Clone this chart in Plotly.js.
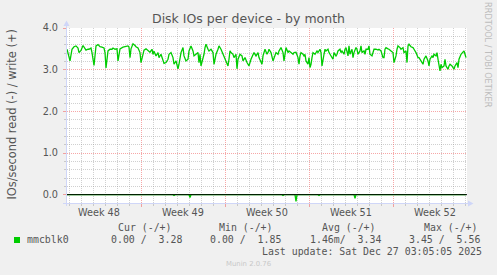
<!DOCTYPE html>
<html><head><meta charset="utf-8">
<script src="https://cdn.plot.ly/plotly-3.0.1.min.js"></script>
<style>html,body{margin:0;padding:0;background:#f0f0f0;}#chart{width:497px;height:275px;}</style>
</head><body><div id="chart"></div>
<script>
// ---- data (2-hour samples, index = sample number from the graph start) ----
const startTime = '2025-11-23T19:05:00Z';
const endTime = '2025-12-27T03:05:00Z';
const stepHours = 2;

const writeIdx = [0,1,3,5,7,9,11,12,14,16,17,19,21,22,24,25,27,28,29,31,33,35,37,38,39,41,43,45,46,48,50,51,52,53,56,58,61,62,63,64,66,68,69,71,73,74,76,77,79,81,83,85,86,87,89,91,92,94,96,97,99,101,
102,104,106,107,109,111,112,114,116,117,119,121,122,124,126,127,129,131,132,133,134,136,137,138,139,141,142,144,146,147,149,151,152,154,156,157,159,161,162,163,164,166,167,169,170,171,173,175,176,178,180,181,182,184,186,187,189,191,192,194,195,196,198,200,
201,202,204,206,207,209,211,212,214,216,217,218,219,221,222,224,226,227,229,231,232,233,234,236,237,238,239,241,242,243,244,245,246,248,250,251,253,254,255,257,258,259,261,262,263,265,266,267,269,270,271,273,274,275,277,278,279,281,282,283,285,286,287,289,290,291,293,294,295,297,298,299,
301,302,303,305,306,307,309,311,312,314,316,317,318,319,321,322,324,326,327,329,330,331,333,334,336,337,339,340,341,342,344,346,347,349,351,352,354,356,357,359,361,362,363,365,366,367,369,370,371,373,374,375,377,378,379,381,382,383,385,386,387,388,390,391,392,394,396,397,398,399];
const writeVals = [3.49,3.37,3.21,3.49,3.55,3.57,3.52,3.41,3.46,3.58,3.54,3.47,3.49,3.49,3.52,3.41,3.10,3.41,3.57,3.60,3.55,3.54,3.52,3.41,3.04,3.45,3.49,3.49,3.52,3.49,3.50,3.21,3.37,3.50,3.54,3.55,3.57,3.54,3.29,3.50,3.62,3.58,3.55,3.52,3.41,3.17,3.37,3.47,3.50,3.47,3.42,3.49,3.37,3.44,3.33,3.41,3.29,3.37,3.25,3.15,3.17,3.25,
3.37,3.41,3.29,3.13,3.21,3.02,3.13,3.41,3.53,3.33,3.21,3.25,3.45,3.57,3.45,3.33,3.37,3.41,3.17,3.37,3.09,3.25,3.37,3.53,3.61,3.49,3.45,3.49,3.41,3.13,3.37,3.49,3.57,3.49,3.37,3.29,3.17,3.09,3.25,3.45,3.41,3.37,3.29,3.37,3.02,3.25,3.37,3.33,3.21,3.29,3.17,3.13,3.09,3.25,3.37,3.41,3.33,3.41,3.29,3.17,3.13,3.33,3.49,3.37,
3.41,3.49,3.41,3.21,3.29,3.41,3.37,3.45,3.53,3.41,3.21,3.45,3.53,3.41,3.45,3.41,3.37,3.41,3.42,3.29,3.13,3.33,3.41,3.37,3.33,3.37,3.21,3.13,3.29,3.05,3.13,3.29,3.41,3.37,3.45,3.41,3.49,3.41,3.09,3.37,3.49,3.45,3.49,3.41,3.37,3.29,3.25,3.41,3.33,3.37,3.45,3.49,3.41,3.45,3.37,3.49,3.53,3.33,3.57,3.37,3.49,3.29,3.41,3.53,3.49,3.37,3.45,3.57,3.41,3.45,3.37,3.49,
3.49,3.57,3.37,3.33,3.45,3.49,3.49,3.47,3.49,3.45,3.29,3.29,3.49,3.53,3.50,3.49,3.45,3.41,3.17,3.33,3.49,3.57,3.53,3.49,3.53,3.41,3.45,3.17,3.57,3.61,3.55,3.53,3.49,3.41,3.29,3.29,3.21,3.13,3.25,3.33,3.21,3.09,3.25,3.33,3.29,3.37,3.33,3.41,3.25,2.97,3.13,3.05,3.09,3.25,3.09,3.01,3.09,3.13,3.09,3.05,3.01,3.09,3.17,3.05,3.25,3.37,3.41,3.45,3.37,3.29];

// read is drawn negative (munin -/+ convention)
const readIdx = [0,106,107,108,122,123,124,215,216,217,228,229,230,251,252,253,287,288,289,399];
const readVals = [0,0,-0.02,0,0,-0.07,0,0,-0.02,0,0,-0.16,0,0,-0.02,0,0,-0.09,0,0];

const weekLabels = ['Week 48','Week 49','Week 50','Week 51','Week 52'];
const weekCenters = ['2025-11-26 12:00','2025-12-03 12:00','2025-12-10 12:00','2025-12-17 12:00','2025-12-24 12:00'];
const seriesName = 'mmcblk0';
const legendHeader = ['Cur (-/+)','Min (-/+)','Avg (-/+)','Max (-/+)'];
const legendValues = ['0.00 /  3.28','0.00 /  1.85','1.46m/  3.34','3.45 /  5.56'];
const lastUpdate = 'Last update: Sat Dec 27 03:05:05 2025';
const titleText = 'Disk IOs per device - by month';
const yTitle = 'IOs/second read (-) / write (+)';
const watermark = 'RRDTOOL / TOBI OETIKER';
const footer = 'Munin 2.0.76';

// ---- helpers ----
const t0 = Date.parse(startTime);
const fmt = ms => new Date(ms).toISOString().slice(0,16).replace('T',' ');
const toTime = i => fmt(t0 + i*stepHours*3600000);

const L=67, T=28, W=400, H=175;
const X = p => (p-L)/W, Y = p => (T+H-p)/H;

const GREEN='#00cc00', AXIS='#cfd6f8', FONT='#555555';
const MGRID='rgba(240,80,80,0.5)', GRID='rgba(150,150,150,0.45)';

const traces = [
  {x: writeIdx.map(toTime), y: writeVals, type:'scatter', mode:'lines',
   line:{color:GREEN, width:1.3}, hoverinfo:'skip', showlegend:false},
  {x: readIdx.map(toTime), y: readVals, type:'scatter', mode:'lines',
   line:{color:GREEN, width:1.3}, hoverinfo:'skip', showlegend:false}
];

const ann = [];
ann.push({text:titleText, xref:'paper', yref:'paper', x:X(248.5), y:Y(18.5), xanchor:'center', yanchor:'middle',
  showarrow:false, font:{family:'DejaVu Sans', size:12.5, color:FONT}, borderpad:0});
ann.push({text:yTitle, xref:'paper', yref:'paper', x:X(11.5), y:Y(115), xanchor:'center', yanchor:'middle',
  textangle:-90, showarrow:false, font:{family:'DejaVu Sans', size:11.4, color:FONT}, borderpad:0});
ann.push({text:watermark, xref:'paper', yref:'paper', x:X(488), y:Y(55), xanchor:'center', yanchor:'middle',
  textangle:90, showarrow:false, font:{family:'DejaVu Sans', size:8.2, color:'#bdbdbd'}, borderpad:0});
weekLabels.forEach((w,i)=>ann.push({text:w, xref:'x', yref:'paper', x:weekCenters[i], y:Y(212.3),
  xanchor:'center', yanchor:'middle', showarrow:false, font:{family:'DejaVu Sans', size:9.7, color:FONT}, borderpad:0}));
const headerX=[116.5,218,320.5,422.5], valueX=[109.5,208.5,308.5,407.5];
const mono = {family:'DejaVu Sans Mono', size:9.9, color:FONT};
legendHeader.forEach((h,i)=>ann.push({text:h, xref:'paper', yref:'paper', x:X(headerX[i]), y:Y(227.7),
  xanchor:'left', yanchor:'middle', showarrow:false, font:mono, borderpad:0}));
legendValues.forEach((v,i)=>ann.push({text:v.replace(/ /g,'\u00a0'), xref:'paper', yref:'paper', x:X(valueX[i]), y:Y(239.3),
  xanchor:'left', yanchor:'middle', showarrow:false, font:mono, borderpad:0}));
ann.push({text:seriesName, xref:'paper', yref:'paper', x:X(25.5), y:Y(239.3), xanchor:'left', yanchor:'middle',
  showarrow:false, font:mono, borderpad:0});
ann.push({text:lastUpdate.replace(/ /g,'\u00a0'), xref:'paper', yref:'paper', x:X(482.8), y:Y(251), xanchor:'right', yanchor:'middle',
  showarrow:false, font:mono, borderpad:0});
ann.push({text:footer, xref:'paper', yref:'paper', x:X(248), y:Y(264), xanchor:'center', yanchor:'middle',
  showarrow:false, font:{family:'DejaVu Sans', size:6.9, color:'#c8c8c8'}, borderpad:0});

const shapes = [
  {type:'line', xref:'paper', yref:'y', x0:0, x1:1, y0:0, y1:0, line:{color:'#000000', width:1}, layer:'above'},
  {type:'line', xref:'paper', yref:'paper', x0:X(66.5), x1:X(66.5), y0:Y(206), y1:Y(24), line:{color:AXIS, width:1}, layer:'above'},
  {type:'line', xref:'paper', yref:'paper', x0:X(63), x1:X(470), y0:Y(203.5), y1:Y(203.5), line:{color:AXIS, width:1}, layer:'above'},
  {type:'path', xref:'paper', yref:'paper', path:`M${X(63.5)},${Y(26)} L${X(69.5)},${Y(26)} L${X(66.5)},${Y(20.5)} Z`,
   fillcolor:AXIS, line:{width:0}, layer:'above'},
  {type:'path', xref:'paper', yref:'paper', path:`M${X(468)},${Y(200.5)} L${X(468)},${Y(206.5)} L${X(473.5)},${Y(203.5)} Z`,
   fillcolor:AXIS, line:{width:0}, layer:'above'},
  {type:'rect', xref:'paper', yref:'paper', x0:X(14), x1:X(20), y0:Y(243), y1:Y(237), fillcolor:GREEN, line:{width:0}}
];

const layout = {
  width:497, height:275,
  margin:{l:L, r:497-L-W, t:T, b:275-T-H, pad:0},
  paper_bgcolor:'#f0f0f0', plot_bgcolor:'#ffffff',
  showlegend:false,
  xaxis:{type:'date', range:[fmt(Date.parse(startTime)), fmt(Date.parse(endTime))],
    tick0:'2025-11-30', dtick:7*86400000, showticklabels:false,
    showgrid:true, gridcolor:MGRID, griddash:'1px,1px', gridwidth:1,
    ticks:'outside', ticklen:3, tickcolor:MGRID, showline:false, zeroline:false,
    minor:{tick0:'2025-11-30', dtick:86400000, showgrid:true, gridcolor:GRID, griddash:'1px,1px',
      ticks:'outside', ticklen:2, tickcolor:GRID},
    fixedrange:true},
  yaxis:{range:[-0.2,4.0], tick0:0, dtick:1, tickformat:'.1f',
    showgrid:true, gridcolor:MGRID, griddash:'1px,1px', gridwidth:1,
    ticks:'outside', ticklen:3, tickcolor:MGRID, ticklabelstandoff:3,
    tickfont:{family:'DejaVu Sans', size:9.7, color:FONT},
    minor:{dtick:0.2, showgrid:true, gridcolor:GRID, griddash:'1px,1px', ticks:'outside', ticklen:2, tickcolor:GRID},
    showline:false, zeroline:false, fixedrange:true},
  annotations:ann,
  shapes:shapes
};

Plotly.newPlot('chart', traces, layout, {staticPlot:true, displayModeBar:false});
</script>
</body></html>
